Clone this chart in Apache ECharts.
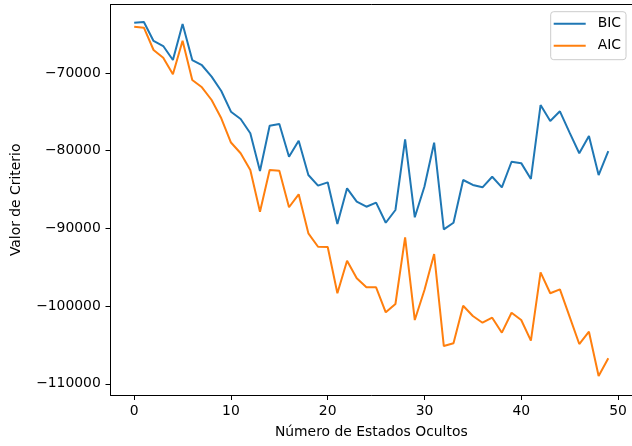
<!DOCTYPE html>
<html>
<head>
<meta charset="utf-8">
<style>
  html, body { margin: 0; padding: 0; background: #ffffff; }
  #chart { width: 632px; height: 446px; }
</style>
<script src="https://cdn.jsdelivr.net/npm/echarts@6/dist/echarts.min.js"></script>
</head>
<body>
<div id="chart"></div>
<script>
// Number of hidden states evaluated
const states = [0, 1, 2, 3, 4, 5, 6, 7, 8, 9,
  10, 11, 12, 13, 14, 15, 16, 17, 18, 19,
  20, 21, 22, 23, 24, 25, 26, 27, 28, 29,
  30, 31, 32, 33, 34, 35, 36, 37, 38, 39,
  40, 41, 42, 43, 44, 45, 46, 47, 48, 49];

// Bayesian information criterion per model
const bic = [-63530, -63440, -65880, -66530, -68330, -63700, -68330, -69000, -70470, -72320,
  -74980, -75920, -77760, -82610, -76780, -76560, -80770, -78710, -83130, -84500,
  -84070, -89430, -84840, -86560, -87210, -86690, -89270, -87630, -78530, -88570,
  -84600, -78970, -90120, -89270, -83770, -84410, -84710, -83350, -84710, -81420,
  -81600, -83640, -74120, -76180, -74930, -77680, -80330, -78110, -83130, -80040];

// Akaike information criterion per model
const aic = [-64040, -64170, -67040, -68030, -70170, -65840, -70900, -71840, -73475, -75830,
  -78950, -80330, -82480, -87850, -82480, -82570, -87280, -85610, -90630, -92360,
  -92400, -98350, -94160, -96420, -97580, -97580, -100800, -99730, -91150, -101790,
  -97930, -93300, -105140, -104790, -99950, -101270, -102140, -101490, -103420, -100850,
  -101790, -104450, -95650, -98350, -97840, -101360, -104880, -103290, -109000, -106720];

// Tick positions
const xTicks = [0, 10, 20, 30, 40, 50];
const yTicks = [-110000, -100000, -90000, -80000, -70000];

const FONT = 'DejaVu Sans';
const FS = 13.9;
const X_MIN = -2.45, X_MAX = 51.45;

const pairs = (ys) => states.map((s, i) => [s, ys[i]]);

const chart = echarts.init(document.getElementById('chart'), null, { renderer: 'canvas' });

chart.setOption({
  animation: false,
  backgroundColor: '#ffffff',
  textStyle: { fontFamily: FONT },
  grid: {
    left: 110.5, top: 4.7, width: 524.5, height: 390.3,
    show: false
  },
  legend: {
    orient: 'vertical',
    left: 550.7, top: 11.7,
    padding: [5, 5, 7, 3],
    itemGap: 8,
    itemWidth: 32, itemHeight: 2,
    icon: 'rect',
    backgroundColor: 'rgba(255,255,255,0.8)',
    borderColor: '#cccccc', borderWidth: 1, borderRadius: 3,
    textStyle: { fontFamily: FONT, fontSize: FS, color: '#000000', padding: [0, 0, 0, 7] },
    data: ['BIC', 'AIC']
  },
  xAxis: [
    {
      type: 'value',
      position: 'bottom',
      min: X_MIN, max: X_MAX,
      name: 'Número de Estados Ocultos',
      nameLocation: 'middle',
      nameGap: 30,
      nameTextStyle: { fontFamily: FONT, fontSize: FS, color: '#000000' },
      axisLine: { show: true, onZero: false, lineStyle: { color: '#000000', width: 1 } },
      axisTick: { show: true, length: 5, customValues: xTicks, lineStyle: { color: '#000000', width: 1 } },
      axisLabel: { customValues: xTicks, margin: 9.7, fontFamily: FONT, fontSize: FS, color: '#000000' },
      splitLine: { show: false }
    },
    {
      // top frame line only
      type: 'value',
      position: 'top',
      min: X_MIN, max: X_MAX,
      axisLine: { show: true, onZero: false, lineStyle: { color: '#000000', width: 1 } },
      axisTick: { show: false },
      axisLabel: { show: false },
      splitLine: { show: false }
    }
  ],
  yAxis: {
    type: 'value',
    min: -111440, max: -61210,
    name: 'Valor de Criterio',
    nameLocation: 'middle',
    nameGap: 87,
    nameTextStyle: { fontFamily: FONT, fontSize: FS, color: '#000000' },
    axisLine: { show: true, onZero: false, lineStyle: { color: '#000000', width: 1 } },
    axisTick: { show: true, length: 5, customValues: yTicks, lineStyle: { color: '#000000', width: 1 } },
    axisLabel: {
      customValues: yTicks, margin: 9.7, fontFamily: FONT, fontSize: FS, color: '#000000',
      formatter: (v) => String(v).replace('-', '\u2212')
    },
    splitLine: { show: false }
  },
  series: [
    {
      name: 'BIC', type: 'line', data: pairs(bic), xAxisIndex: 0,
      symbol: 'none', showSymbol: false,
      lineStyle: { color: '#1f77b4', width: 2 },
      itemStyle: { color: '#1f77b4' }
    },
    {
      name: 'AIC', type: 'line', data: pairs(aic), xAxisIndex: 0,
      symbol: 'none', showSymbol: false,
      lineStyle: { color: '#ff7f0e', width: 2 },
      itemStyle: { color: '#ff7f0e' }
    }
  ]
});
</script>
</body>
</html>
